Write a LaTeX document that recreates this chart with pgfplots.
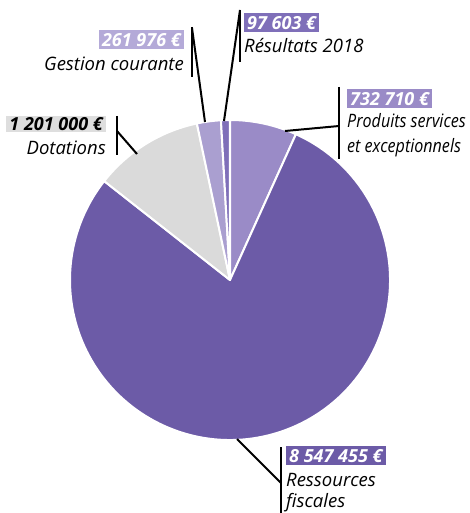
\documentclass[border=0pt]{standalone}
\usepackage{pgfplots}
\pgfplotsset{compat=1.18}
\usepackage{pgfplotstable}
\usepackage{fontspec}
\setmainfont{Open Sans}

\definecolor{fisc}{HTML}{6C5BA7}
\definecolor{prod}{HTML}{9A8BC7}
\definecolor{dot}{HTML}{DADADA}
\definecolor{gest}{HTML}{AA9FD0}
\definecolor{res}{HTML}{7F6FB9}
\definecolor{gestbox}{HTML}{B4AAD8}
\definecolor{dotbox}{HTML}{DEDEDE}

% values in thousand euros, clockwise from the top
\pgfplotstableread{
val       col
732.710   prod
8547.455  fisc
1201.000  dot
261.976   gest
97.603    res
}\parts

\newcommand\lbl{\fontsize{18.5bp}{22bp}\selectfont\itshape}
\newcommand\num{\fontsize{18bp}{22bp}\selectfont\bfseries\itshape}

\begin{document}
\begin{tikzpicture}
\pgfmathsetmacro\total{0}
\foreach \i in {0,...,4}{
  \pgfplotstablegetelem{\i}{val}\of\parts
  \pgfmathsetmacro\tmp{\total+\pgfplotsretval}
  \global\let\total\tmp
}
\begin{axis}[
    hide axis, scale only axis,
    width=470bp, height=513bp,
    xmin=0, xmax=470, ymin=0, ymax=513,
    y dir=reverse, clip=false,
]
\xdef\cum{90}
\pgfplotsinvokeforeach{0,...,4}{
  \pgfplotstablegetelem{#1}{val}\of\parts \let\sliceval\pgfplotsretval
  \pgfplotstablegetelem{#1}{col}\of\parts \let\slicecol\pgfplotsretval
  \pgfmathsetmacro\stop{\cum-\sliceval/\total*360}
  \edef\temp{\noexpand\filldraw[fill=\slicecol, draw=white, line width=2bp, line join=round]
    (axis cs:230,280) -- ++(\cum:160bp) arc[start angle=\cum, end angle=\stop, radius=160bp] -- cycle;}
  \temp
  \xdef\cum{\stop}
}

% leader lines
\draw[line width=2bp] (axis cs:192,27) -- (axis cs:192,77);
\draw[line width=2bp] (axis cs:192,28) -- (axis cs:205,122);
\draw[line width=2bp] (axis cs:117,116) -- (axis cs:117,155);
\draw[line width=2bp] (axis cs:117,131) -- (axis cs:137,154);
\draw[line width=2bp] (axis cs:240,10) -- (axis cs:240,62);
\draw[line width=2bp] (axis cs:240,10) -- (axis cs:224,121);
\draw[line width=2bp] (axis cs:339,87) -- (axis cs:339,159);
\draw[line width=2bp] (axis cs:339,126) -- (axis cs:285,131);
\draw[line width=2bp] (axis cs:281,447) -- (axis cs:281,513);
\draw[line width=2bp] (axis cs:237,439) -- (axis cs:281,483);

% labels
\tikzset{box/.style={inner xsep=3bp, inner ysep=3bp, text height=13bp, text depth=0pt, font=\num},
  txt/.style={inner sep=0pt, font=\lbl}}
\node[box, fill=gestbox, text=white, anchor=north east] at (axis cs:184,30) {261 976 €};
\node[txt, anchor=base east] at (axis cs:184,71) {Gestion courante};
\node[box, fill=dotbox, text=black, anchor=north east, inner ysep=1.5bp] at (axis cs:106,116) {1 201 000 €};
\node[txt, anchor=base east] at (axis cs:106,154) {Dotations};
\node[box, fill=res, text=white, anchor=north west] at (axis cs:244,13) {97 603 €};
\node[txt, anchor=base west] at (axis cs:244,53) {Résultats 2018};
\node[box, fill=prod, text=white, anchor=north west] at (axis cs:347,89) {732 710 €};
\node[txt, anchor=base west, xscale=0.87, transform shape] at (axis cs:347,127) {Produits services};
\node[txt, anchor=base west, xscale=0.87, transform shape] at (axis cs:347,152) {et exceptionnels};
\node[box, fill=fisc, text=white, anchor=north west] at (axis cs:286,446) {8 547 455 €};
\node[txt, anchor=base west] at (axis cs:286,486) {Ressources};
\node[txt, anchor=base west] at (axis cs:286,507) {fiscales};
\end{axis}
\pgfresetboundingbox
\path (current axis.south west) rectangle (current axis.north east);
\end{tikzpicture}
\end{document}
